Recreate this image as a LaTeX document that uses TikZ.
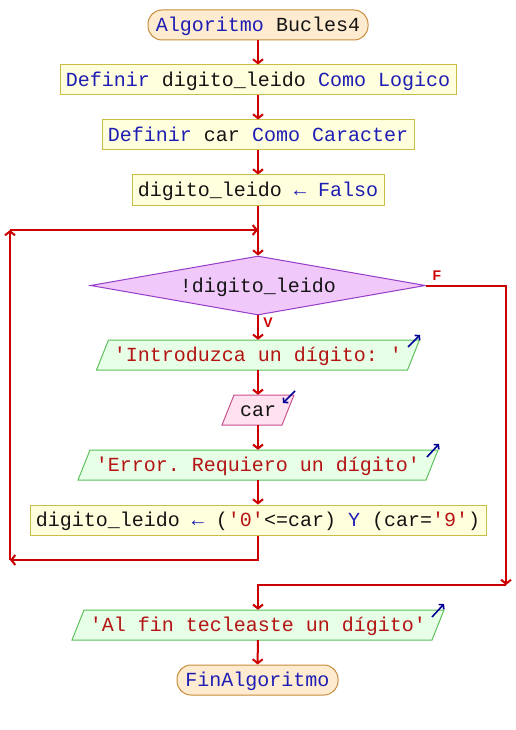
\documentclass[tikz,border=0pt]{standalone}
\usepackage{fontspec}
\setmonofont{Liberation Mono}
\newfontfamily\lblfont{Liberation Sans}
\usetikzlibrary{arrows.meta,shapes.geometric,calc}
\definecolor{flowred}{RGB}{204,0,0}
\definecolor{kwblue}{RGB}{30,30,180}
\definecolor{strred}{RGB}{180,20,20}
\definecolor{idcol}{RGB}{20,20,20}
\definecolor{iconblue}{RGB}{0,0,150}
\definecolor{boxfill}{RGB}{255,255,221}
\definecolor{boxdraw}{RGB}{200,190,70}
\definecolor{termfill}{RGB}{255,236,208}
\definecolor{termdraw}{RGB}{200,140,60}
\definecolor{condfill}{RGB}{240,200,250}
\definecolor{conddraw}{RGB}{150,60,200}
\definecolor{outfill}{RGB}{230,255,230}
\definecolor{outdraw}{RGB}{90,190,90}
\definecolor{infill}{RGB}{255,225,240}
\definecolor{indraw}{RGB}{200,80,140}
\newcommand\kw[1]{\textcolor{kwblue}{#1}}
\newcommand\st[1]{\textcolor{strred}{#1}}
\newcommand\iobox[6]{%
  \filldraw[#5] (#2-#4-6,#3+15) -- (#2+#4-6,#3+15) -- (#2+#4+6,#3-15) -- (#2-#4+6,#3-15) -- cycle;
  \node[txt, minimum width=2*#4, minimum height=30] (#1) at (#2,#3) {#6};}
\begin{document}
\begin{tikzpicture}[x=1pt,y=-1pt,
  txt/.style={font=\ttfamily\fontsize{20}{24}\selectfont, text=idcol, inner sep=0pt, text height=17pt, text depth=4pt},
  procbox/.style={txt, draw=boxdraw, fill=boxfill, line width=1pt, minimum height=30},
  term/.style={txt, draw=termdraw, fill=termfill, line width=1pt, rounded corners=14pt, minimum height=30},
  cond/.style={txt, diamond, draw=conddraw, fill=condfill, line width=1pt, minimum width=335, minimum height=59, shape aspect=5.7},
  outst/.style={draw=outdraw, fill=outfill, line width=1pt},
  inst/.style={draw=indraw, fill=infill, line width=1pt},
  flow/.style={draw=flowred, line width=2pt, -{Straight Barb[length=4pt,width=10pt]}},
  icon/.style={draw=iconblue, line width=1.6pt, -{Straight Barb[length=3pt,width=7pt]}},
  lbl/.style={font=\lblfont\bfseries\fontsize{14}{15}\selectfont, text=flowred, inner sep=0pt}
]
\useasboundingbox[fill=white] (0,0) rectangle (516,730);

\node[term, minimum width=220] (start) at (258,25) {\kw{Algoritmo} Bucles4};
\node[procbox, minimum width=396] (d1) at (258,80) {\kw{Definir} digito\_leido \kw{Como} \kw{Logico}};
\node[procbox, minimum width=312] (d2) at (258,135) {\kw{Definir} car \kw{Como} \kw{Caracter}};
\node[procbox, minimum width=252] (d3) at (258,190) {digito\_leido \kw{←} \kw{Falso}};
\node[cond] (c) at (258,285.5) {!digito\_leido};
\iobox{in1}{258}{355}{155.5}{outst}{\st{'Introduzca un dígito: '}}
\iobox{car}{258}{410}{30}{inst}{car}
\iobox{out2}{258}{465}{174}{outst}{\st{'Error. Requiero un dígito'}}
\node[procbox, minimum width=456] (asig) at (258,520) {digito\_leido \kw{←} (\st{'0'}<=car) \kw{Y} (car=\st{'9'})};
\iobox{fin1}{258}{625}{180}{outst}{\st{'Al fin tecleaste un dígito'}}
\node[term, minimum width=161] (fin) at (257.5,680) {\kw{FinAlgoritmo}};

\coordinate (join) at (258,230);
\coordinate (lt) at (10,230);
\coordinate (lb) at (10,560);
\coordinate (fr) at (506,585);
\coordinate (fe) at (506,285.5);

\draw[flow] (start) -- (d1);
\draw[flow] (d1) -- (d2);
\draw[flow] (d2) -- (d3);
\draw[flow] (d3) -- (c);
\draw[flow] (c) -- (in1);
\draw[flow] (in1) -- (car);
\draw[flow] (car) -- (out2);
\draw[flow] (out2) -- (asig);
\draw[flow] (asig.south) -- (asig.south |- lb) -- (lb);
\draw[flow] (lb) -- (lt);
\draw[flow] (lt) -- (join);
\draw[flow] (c.east) -- (fe) -- (fr);
\draw[flow] (fr) -- (fin1.north |- fr) -- (fin1.north);
\draw[flow] (fin1) -- (fin);

\node[lbl] (F) at (437,276) {F};
\node[lbl] (V) at (268,323) {V};

\draw[icon] (408,347) -- (420,335);
\draw[icon] (295,391) -- (283,403);
\draw[icon] (427,457) -- (439,444);
\draw[icon] (432,617) -- (444,604);
\end{tikzpicture}
\end{document}
